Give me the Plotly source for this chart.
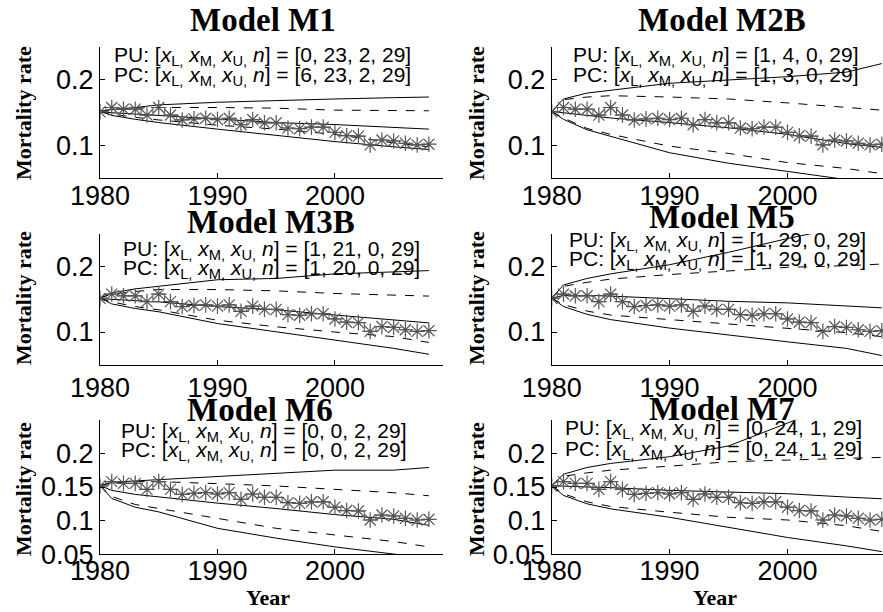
import plotly.graph_objects as go

# ---------------- data ----------------
obs_years = list(range(1980, 2009))
observed = [0.1515, 0.158, 0.1554, 0.1554, 0.1465, 0.158, 0.1465, 0.139, 0.1406, 0.1416,
            0.1396, 0.1416, 0.1317, 0.1396, 0.1347, 0.1347, 0.1267, 0.1257, 0.128, 0.128,
            0.120, 0.115, 0.1144, 0.101, 0.1084, 0.107, 0.1035, 0.101, 0.102]

band_years = [1980, 1981, 1983, 1985, 1990, 1995, 2000, 2005, 2008]

model_names = ["Model M1", "Model M2B", "Model M3B", "Model M5", "Model M6", "Model M7"]

# PU (solid) upper / median / lower, PC (dashed) upper / lower
m1_pu_hi  = [0.152, 0.155, 0.158, 0.162, 0.166, 0.169, 0.171, 0.173, 0.174]
m1_pu_mid = [0.152, 0.150, 0.148, 0.146, 0.140, 0.135, 0.132, 0.127, 0.125]
m1_pu_lo  = [0.152, 0.146, 0.140, 0.135, 0.125, 0.115, 0.106, 0.098, 0.094]
m1_pc_hi  = [0.152, 0.155, 0.157, 0.158, 0.158, 0.157, 0.154, 0.153, 0.153]
m1_pc_lo  = [0.152, 0.148, 0.143, 0.139, 0.131, 0.125, 0.117, 0.104, 0.098]

m2b_pu_hi  = [0.152, 0.171, 0.180, 0.184, 0.195, 0.200, 0.205, 0.212, 0.225]
m2b_pu_mid = [0.152, 0.150, 0.146, 0.142, 0.135, 0.127, 0.117, 0.103, 0.097]
m2b_pu_lo  = [0.152, 0.140, 0.124, 0.114, 0.089, 0.073, 0.060, 0.048, 0.041]
m2b_pc_hi  = [0.152, 0.170, 0.174, 0.176, 0.174, 0.171, 0.165, 0.158, 0.154]
m2b_pc_lo  = [0.152, 0.142, 0.126, 0.117, 0.099, 0.088, 0.074, 0.065, 0.057]

m3b_pu_hi  = [0.152, 0.160, 0.166, 0.170, 0.180, 0.182, 0.189, 0.192, 0.194]
m3b_pu_mid = [0.152, 0.150, 0.148, 0.146, 0.139, 0.134, 0.126, 0.118, 0.114]
m3b_pu_lo  = [0.152, 0.143, 0.136, 0.131, 0.113, 0.100, 0.087, 0.075, 0.066]
m3b_pc_hi  = [0.152, 0.158, 0.162, 0.165, 0.165, 0.163, 0.159, 0.156, 0.155]
m3b_pc_lo  = [0.152, 0.146, 0.139, 0.134, 0.118, 0.108, 0.100, 0.093, 0.084]

m5_pu_hi  = [0.152, 0.172, 0.182, 0.189, 0.203, 0.222, 0.243, 0.262, 0.270]
m5_pu_mid = [0.152, 0.156, 0.156, 0.155, 0.151, 0.147, 0.1446, 0.140, 0.137]
m5_pu_lo  = [0.152, 0.139, 0.127, 0.119, 0.106, 0.095, 0.085, 0.075, 0.064]
m5_pc_hi  = [0.152, 0.170, 0.176, 0.181, 0.188, 0.194, 0.199, 0.2015, 0.204]
m5_pc_lo  = [0.152, 0.142, 0.132, 0.126, 0.119, 0.112, 0.106, 0.099, 0.093]

m6_pu_hi  = [0.152, 0.157, 0.159, 0.161, 0.166, 0.170, 0.175, 0.175, 0.179]
m6_pu_mid = [0.152, 0.145, 0.139, 0.135, 0.126, 0.118, 0.109, 0.102, 0.093]
m6_pu_lo  = [0.152, 0.133, 0.120, 0.113, 0.0886, 0.074, 0.061, 0.050, 0.044]
m6_pc_hi  = [0.152, 0.156, 0.158, 0.158, 0.155, 0.1515, 0.1465, 0.1415, 0.137]
m6_pc_lo  = [0.152, 0.136, 0.124, 0.118, 0.1035, 0.0886, 0.0787, 0.069, 0.061]

m7_pu_hi  = [0.152, 0.169, 0.179, 0.185, 0.195, 0.211, 0.245, 0.280, 0.300]
m7_pu_mid = [0.152, 0.151, 0.150, 0.149, 0.145, 0.1425, 0.140, 0.135, 0.1325]
m7_pu_lo  = [0.152, 0.1375, 0.125, 0.1175, 0.105, 0.090, 0.075, 0.0625, 0.054]
m7_pc_hi  = [0.152, 0.166, 0.171, 0.175, 0.181, 0.1875, 0.190, 0.1925, 0.194]
m7_pc_lo  = [0.152, 0.140, 0.128, 0.121, 0.1125, 0.105, 0.101, 0.0925, 0.084]

pu_counts = [[0, 23, 2, 29], [1, 4, 0, 29], [1, 21, 0, 29], [1, 29, 0, 29], [0, 0, 2, 29], [0, 24, 1, 29]]
pc_counts = [[6, 23, 2, 29], [1, 3, 0, 29], [1, 20, 0, 29], [1, 29, 0, 29], [0, 0, 2, 29], [0, 24, 1, 29]]

bands = [
    (m1_pu_hi, m1_pu_mid, m1_pu_lo, m1_pc_hi, m1_pc_lo),
    (m2b_pu_hi, m2b_pu_mid, m2b_pu_lo, m2b_pc_hi, m2b_pc_lo),
    (m3b_pu_hi, m3b_pu_mid, m3b_pu_lo, m3b_pc_hi, m3b_pc_lo),
    (m5_pu_hi, m5_pu_mid, m5_pu_lo, m5_pc_hi, m5_pc_lo),
    (m6_pu_hi, m6_pu_mid, m6_pu_lo, m6_pc_hi, m6_pc_lo),
    (m7_pu_hi, m7_pu_mid, m7_pu_lo, m7_pc_hi, m7_pc_lo),
]

x_ticks = [1980, 1990, 2000]
y_ticks_top = [0.1, 0.2]
y_ticktext_top = ["0.1", "0.2"]
y_ticks_bottom = [0.05, 0.1, 0.15, 0.2]
y_ticktext_bottom = ["0.05", "0.1", "0.15", "0.2"]

# ---------------- layout geometry ----------------
W, H = 883, 612
x_domains = [[100 / W, 443 / W], [551.7 / W, 1.0]]
x_ranges = [[1980, 2009.2], [1980, 2008.1]]
y_domains = [[1 - 178.3 / H, 1 - 47.2 / H], [1 - 364.7 / H, 1 - 234 / H], [1 - 554.3 / H, 1 - 419.7 / H]]
x_standoff = [-7, -1, -8]
title_pos = [(263, 20), (722, 20), (271, 222), (722, 217), (260, 410), (722, 409)]
ann_pos = [(1993.8, 0.2365, 0.206), (1993.9, 0.2365, 0.206), (1994.6, 0.2256, 0.196),
           (1994.1, 0.2394, 0.2104), (1994.0, 0.232, 0.204), (1993.75, 0.2357, 0.205)]
ylab_x = [23, 476]
ylab_y = [113, 298, 489]

fig = go.Figure()
serif = "Liberation Serif"
sans = "Liberation Sans"
gray = "#555555"

def lbl(prefix, c):
    return (f"{prefix}: [<i>x</i><sub>L,</sub> <i>x</i><sub>M,</sub> <i>x</i><sub>U,</sub> <i>n</i>] = "
            f"[{c[0]}, {c[1]}, {c[2]}, {c[3]}]")

annotations = []
for i in range(6):
    r, c = divmod(i, 2)
    xa = "x" if i == 0 else f"x{i+1}"
    ya = "y" if i == 0 else f"y{i+1}"
    pu_hi, pu_mid, pu_lo, pc_hi, pc_lo = bands[i]
    for vals, dash in [(pu_hi, "solid"), (pu_mid, "solid"), (pu_lo, "solid"), (pc_hi, "dash"), (pc_lo, "dash")]:
        fig.add_trace(go.Scatter(x=band_years, y=vals, mode="lines", xaxis=xa, yaxis=ya,
                                 line=dict(color="black", width=1, dash=dash), showlegend=False,
                                 hoverinfo="skip"))
    fig.add_trace(go.Scatter(x=obs_years, y=observed, mode="lines+markers", xaxis=xa, yaxis=ya,
                             line=dict(color=gray, width=1, shape="hvh"),
                             marker=dict(symbol="asterisk-open", size=13, color=gray,
                                         line=dict(color=gray, width=1.2)),
                             showlegend=False))
    axkey = "xaxis" if i == 0 else f"xaxis{i+1}"
    aykey = "yaxis" if i == 0 else f"yaxis{i+1}"
    fig.update_layout(**{
        axkey: dict(domain=x_domains[c], range=x_ranges[c], anchor=ya, tickvals=x_ticks,
                    showline=True, linecolor="black", linewidth=1, ticks="inside", ticklen=5,
                    tickcolor="black", showgrid=False, zeroline=False, automargin=False,
                    ticklabelstandoff=x_standoff[r],
                    tickfont=dict(family=sans, size=27, color="black")),
        aykey: dict(domain=y_domains[r], range=[0.05, 0.25], anchor=xa,
                    tickvals=y_ticks_bottom if r == 2 else y_ticks_top,
                    ticktext=y_ticktext_bottom if r == 2 else y_ticktext_top,
                    showline=True, linecolor="black", linewidth=1, ticks="inside", ticklen=5,
                    tickcolor="black", showgrid=False, zeroline=False, automargin=False,
                    tickfont=dict(family=sans, size=27, color="black")),
    })
    tx, ty = title_pos[i]
    annotations.append(dict(text=f"<b>{model_names[i]}</b>", x=tx / W, y=1 - ty / H, xref="paper",
                            yref="paper", xanchor="center", yanchor="middle", showarrow=False,
                            font=dict(family=serif, size=33, color="black")))
    axx, y1, y2 = ann_pos[i]
    annotations.append(dict(text=lbl("PU", pu_counts[i]), x=axx, y=y1, xref=xa, yref=ya,
                            xanchor="center", yanchor="middle", showarrow=False,
                            font=dict(family=sans, size=21, color="black")))
    annotations.append(dict(text=lbl("PC", pc_counts[i]), x=axx, y=y2, xref=xa, yref=ya,
                            xanchor="center", yanchor="middle", showarrow=False,
                            font=dict(family=sans, size=21, color="black")))
    annotations.append(dict(text="<b>Mortality rate</b>", x=ylab_x[c] / W, y=1 - ylab_y[r] / H,
                            xref="paper", yref="paper", xanchor="center", yanchor="middle",
                            textangle=-90, showarrow=False,
                            font=dict(family=serif, size=22, color="black")))

for xc in [268, 715]:
    annotations.append(dict(text="<b>Year</b>", x=xc / W, y=1 - 597 / H, xref="paper", yref="paper",
                            xanchor="center", yanchor="middle", showarrow=False,
                            font=dict(family=serif, size=22, color="black")))

fig.update_layout(width=W, height=H, autosize=False, margin=dict(l=0, r=0, t=0, b=0),
                  paper_bgcolor="white", plot_bgcolor="white", annotations=annotations,
                  showlegend=False)

fig.write_html("out.html")
